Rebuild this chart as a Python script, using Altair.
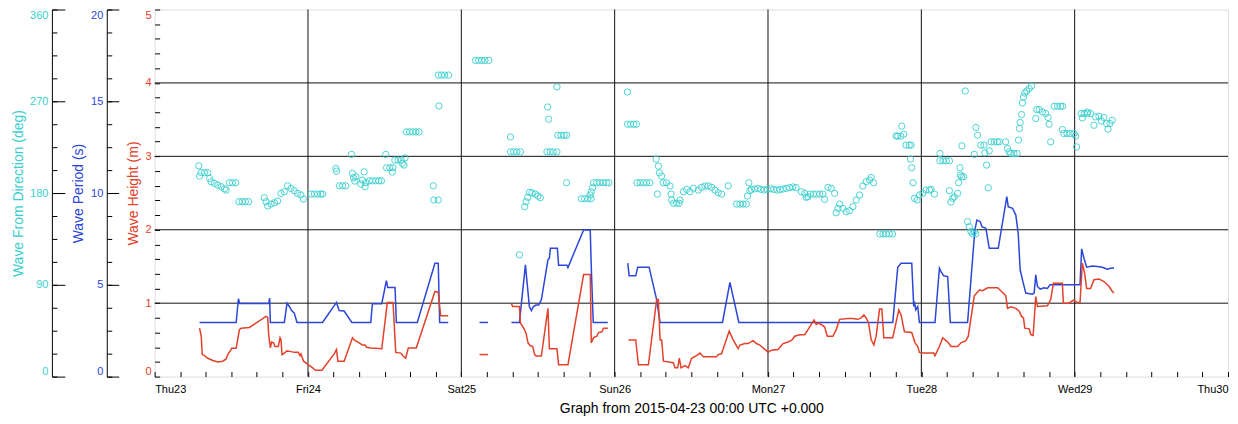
import json
import altair as alt
import pandas as pd

CYAN = "#3acfcf"
BLUE = "#2b46d8"
RED = "#e2412a"
FONT = "Liberation Sans"
W, H = 1076, 368

# ---------------- data (hours since 2015-04-23 00:00 UTC) ----------------
day_labels = ["Thu23", "Fri24", "Sat25", "Sun26", "Mon27", "Tue28", "Wed29", "Thu30"]
day_grid_hours = [24, 48, 72, 96, 120, 144]
height_grid_m = [1, 2, 3, 4]

period_seg1 = [(7.03, 2.95), (12.76, 2.95), (13.11, 4.24), (13.32, 3.98), (17.85, 3.98), (18.00, 4.28),
               (18.11, 2.95), (20.30, 2.95), (20.72, 4.00), (21.08, 3.82), (21.44, 3.60), (21.86, 3.46),
               (22.28, 2.95), (26.28, 2.95), (28.46, 4.04), (28.88, 3.60), (29.66, 3.57), (30.87, 2.95),
               (33.83, 2.95), (34.08, 3.97), (35.55, 3.97), (36.27, 5.23), (36.49, 4.85), (37.63, 4.85),
               (37.83, 2.95), (41.11, 2.95), (43.87, 6.18), (44.39, 6.18), (44.61, 2.95), (45.95, 2.95)]
period_seg2 = [(50.85, 2.95), (52.19, 2.95)]
period_seg3 = [(55.85, 2.95), (57.10, 2.95), (58.03, 6.09), (58.65, 3.82), (58.97, 3.60), (59.28, 3.82),
               (59.69, 3.90), (60.11, 3.90), (60.53, 4.18), (61.56, 6.36), (61.78, 6.45), (61.94, 6.99),
               (63.03, 6.99), (63.23, 6.07), (64.53, 6.07), (64.69, 5.94), (67.14, 7.99), (68.18, 7.99),
               (68.34, 5.99), (68.65, 2.95), (70.93, 2.95)]
period_seg4 = [(74.05, 6.18), (74.27, 5.49), (75.30, 5.49), (75.61, 5.96), (77.39, 5.96), (78.58, 4.18),
               (79.11, 2.95), (88.88, 2.95), (90.04, 5.13), (91.44, 2.95), (115.53, 2.95), (116.31, 5.96),
               (116.83, 6.18), (118.50, 6.18), (118.81, 3.82), (118.92, 4.09), (119.13, 3.64), (119.44, 3.82),
               (119.70, 2.95), (122.14, 2.95), (122.83, 5.91), (123.08, 5.72), (123.50, 5.49), (124.12, 5.45),
               (124.54, 2.95), (127.24, 2.95), (128.38, 7.99), (128.70, 8.53), (129.23, 8.44), (129.48, 8.17),
               (130.10, 8.08), (130.63, 6.99), (132.04, 6.99), (133.38, 9.80), (133.60, 9.26), (134.27, 9.17),
               (134.79, 8.80), (135.16, 7.81), (135.47, 5.82), (135.83, 5.27), (136.35, 4.55), (137.39, 4.49),
               (137.66, 4.55), (137.91, 5.54), (138.17, 4.91), (138.60, 4.77), (139.22, 4.84), (139.73, 4.80),
               (140.16, 5.00), (144.84, 5.00), (145.09, 6.96), (145.46, 6.45), (145.87, 5.96), (146.76, 6.03),
               (147.54, 6.00), (148.32, 5.96), (149.10, 5.85), (149.62, 5.90), (150.15, 5.92)]

height_seg1 = [(7.03, 0.66), (7.29, 0.55), (7.45, 0.30), (7.81, 0.285), (8.32, 0.25), (9.10, 0.22),
               (9.88, 0.20), (10.66, 0.21), (11.19, 0.24), (11.44, 0.30), (11.98, 0.37), (12.07, 0.385),
               (12.76, 0.385), (13.27, 0.64), (13.54, 0.66), (14.83, 0.67), (17.44, 0.82), (17.69, 0.81),
               (17.85, 0.57), (18.11, 0.39), (18.31, 0.47), (18.63, 0.46), (18.84, 0.41), (19.36, 0.41),
               (19.63, 0.53), (19.78, 0.50), (19.94, 0.30), (20.30, 0.32), (20.72, 0.35), (21.34, 0.34),
               (21.86, 0.33), (22.48, 0.33), (22.75, 0.285), (22.90, 0.31), (23.31, 0.21), (23.93, 0.17),
               (24.72, 0.12), (25.14, 0.086), (26.18, 0.086), (28.10, 0.31), (28.46, 0.37), (28.68, 0.21),
               (29.66, 0.21), (30.96, 0.53), (31.23, 0.50), (32.01, 0.46), (32.52, 0.43), (32.94, 0.43),
               (33.15, 0.40), (33.83, 0.39), (35.55, 0.38), (36.42, 1.01), (37.31, 1.01), (37.74, 0.33),
               (38.52, 0.32), (38.88, 0.28), (39.30, 0.25), (39.70, 0.39), (40.95, 0.39), (43.87, 1.16),
               (44.39, 1.15), (44.76, 0.83), (45.95, 0.83)]
height_seg2 = [(50.85, 0.30), (52.19, 0.30)]
height_seg3 = [(55.85, 0.99), (56.05, 0.955), (57.10, 0.955), (57.25, 0.73), (57.77, 0.66), (58.13, 0.59),
               (58.44, 0.46), (58.81, 0.42), (59.17, 0.41), (59.48, 0.30), (59.69, 0.28), (60.53, 0.28),
               (61.56, 0.93), (61.78, 0.38), (62.97, 0.38), (63.23, 0.16), (64.69, 0.16), (67.14, 1.39),
               (68.18, 1.39), (68.34, 0.46), (68.70, 0.53), (69.21, 0.55), (69.48, 0.60), (69.99, 0.61),
               (70.26, 0.66), (70.93, 0.66)]
height_seg4 = [(74.16, 0.50), (75.30, 0.50), (75.72, 0.16), (77.28, 0.16), (78.58, 1.05), (78.84, 1.05),
               (79.11, 0.50), (79.36, 0.50), (79.63, 0.21), (81.19, 0.19), (81.45, 0.12), (81.86, 0.12),
               (82.12, 0.25), (82.39, 0.12), (83.01, 0.15), (83.53, 0.12), (84.04, 0.25), (84.82, 0.285),
               (85.36, 0.32), (85.87, 0.27), (87.95, 0.27), (88.21, 0.30), (88.73, 0.31), (89.93, 0.62),
               (90.55, 0.50), (91.33, 0.38), (91.60, 0.43), (92.38, 0.45), (92.90, 0.45), (93.68, 0.49),
               (94.19, 0.45), (94.72, 0.43), (95.50, 0.37), (96.02, 0.33), (96.53, 0.36), (97.58, 0.37),
               (98.36, 0.45), (99.14, 0.47), (99.77, 0.50), (100.19, 0.55), (100.97, 0.57), (101.75, 0.57),
               (102.26, 0.64), (102.78, 0.71), (103.20, 0.77), (103.56, 0.71), (103.82, 0.73), (104.34, 0.71),
               (104.87, 0.675), (105.28, 0.55), (106.17, 0.55), (106.68, 0.64), (107.21, 0.78), (108.51, 0.79),
               (109.29, 0.79), (110.07, 0.78), (110.59, 0.80), (111.01, 0.84), (111.37, 0.80), (111.74, 0.73),
               (112.15, 0.50), (112.57, 0.43), (112.93, 0.55), (113.46, 0.92), (113.82, 0.92), (114.13, 0.53),
               (115.53, 0.53), (116.47, 0.91), (116.83, 0.84), (117.36, 0.61), (118.50, 0.60), (119.02, 0.46),
               (119.44, 0.41), (119.70, 0.33), (120.22, 0.32), (121.94, 0.32), (122.14, 0.285), (122.83, 0.41),
               (123.34, 0.53), (123.86, 0.49), (124.23, 0.46), (124.64, 0.41), (125.68, 0.41), (126.20, 0.46),
               (126.98, 0.49), (127.35, 0.55), (128.29, 1.10), (129.07, 1.18), (129.59, 1.17), (130.37, 1.21),
               (131.93, 1.21), (132.44, 1.17), (133.22, 1.10), (133.49, 0.93), (134.00, 0.95), (134.79, 0.93),
               (135.32, 0.89), (135.68, 0.82), (135.99, 0.80), (136.19, 0.66), (136.88, 0.65), (137.13, 0.57),
               (137.50, 0.56), (137.91, 1.09), (138.17, 0.955), (139.73, 0.965), (140.25, 1.05), (140.67, 1.27),
               (142.08, 1.27), (142.23, 1.00), (143.12, 1.00), (143.79, 1.04), (144.42, 1.01), (144.84, 1.01),
               (145.20, 1.545), (145.56, 1.41), (145.87, 1.20), (146.49, 1.20), (147.02, 1.32), (147.80, 1.33),
               (148.58, 1.295), (149.37, 1.23), (149.88, 1.16), (150.15, 1.14)]

direction_points = [
    (6.92, 206.7), (7.03, 196.6), (7.29, 200), (7.81, 200), (8.32, 200), (8.59, 194.4), (8.85, 191.1),
    (9.37, 189.5), (9.88, 187.8), (10.41, 186.2), (10.93, 184.2), (11.19, 182.9), (11.71, 190.1),
    (12.2, 190.1), (12.7, 190.1), (13.2, 171.5), (13.7, 171.5), (14.2, 171.5), (14.7, 171.5),
    (17.17, 175.4), (17.44, 171.5), (17.69, 167.3), (18.22, 169.2), (18.74, 170.5), (19.25, 172.2),
    (19.78, 179.7), (20.30, 181.3), (20.81, 187.1), (21.34, 184.6), (21.86, 182.3), (22.37, 179.7),
    (22.90, 178.1), (23.26, 174.1), (24.5, 179), (25.0, 179), (25.5, 179), (26.0, 179), (26.3, 179),
    (28.37, 204.2), (28.46, 201.5), (28.9, 187.1), (29.4, 187.1), (29.9, 187.1), (30.80, 217.9),
    (30.96, 199.3), (31.12, 195.0), (31.34, 191.7), (31.49, 196.0), (32.27, 188.8), (32.52, 192.7),
    (32.79, 200.8), (32.94, 186.2), (33.05, 190.1), (33.6, 192), (34.1, 192), (34.6, 192), (35.1, 192),
    (35.5, 192), (36.17, 217.9), (36.3, 204.8), (36.8, 204.8), (37.3, 204.8), (37.2, 200.6),
    (37.6, 212.3), (38.1, 212.3), (38.6, 212.3), (38.77, 209.1), (39.03, 207.4), (39.19, 214.5),
    (39.4, 240), (39.9, 240), (40.4, 240), (40.9, 240), (41.4, 240), (43.61, 187.1), (43.7, 173.2),
    (44.4, 173.2), (44.50, 265.4), (44.4, 295.7), (44.9, 295.7), (45.4, 295.7), (46.0, 295.7),
    (50.2, 310.1), (50.7, 310.1), (51.2, 310.1), (51.7, 310.1), (52.3, 310.1),
    (55.69, 235.1), (55.7, 220.4), (56.2, 220.4), (56.7, 220.4), (57.25, 220.4), (57.10, 119.4),
    (57.92, 166.6), (58.13, 171.5), (58.39, 175.8), (58.66, 180.7), (59.06, 180.3), (59.59, 179.0),
    (60.0, 177.1), (60.37, 175.4), (61.51, 264.4), (61.67, 252.4), (61.4, 220.4), (61.9, 220.4),
    (62.4, 220.4), (62.97, 220.4), (62.97, 284.0), (63.1, 236.7), (63.6, 236.7), (64.1, 236.7),
    (64.5, 236.7), (64.48, 190.1), (66.8, 174.4), (67.3, 174.4), (67.8, 174.4), (68.3, 174.4),
    (68.18, 178.1), (68.34, 181.3), (68.54, 185.2), (68.7, 190.1), (69.2, 190.1), (69.7, 190.1),
    (70.2, 190.1), (70.7, 190.1), (71.1, 190.1),
    (74.0, 279.1), (74.0, 247.5), (74.5, 247.5), (75.0, 247.5), (75.4, 247.5), (75.5, 190.1),
    (76.0, 190.1), (76.5, 190.1), (77.0, 190.1), (77.5, 190.1), (78.49, 213.3), (78.69, 179.0),
    (78.84, 206.4), (79.0, 199.9), (79.36, 196.6), (79.6, 190.1), (80.1, 190.1), (80.67, 186.9),
    (80.83, 179.0), (80.92, 173.2), (81.2, 170), (81.7, 170), (82.1, 170), (82.23, 173.2),
    (82.75, 181.3), (83.26, 183.6), (83.79, 181.3), (84.31, 184.6), (85.09, 182.9), (85.60, 185.6),
    (86.14, 186.9), (86.65, 186.9), (87.17, 185.6), (87.70, 182.9), (88.21, 180.3), (88.73, 179.0),
    (89.77, 187.1), (91.1, 169.2), (91.6, 169.2), (92.1, 169.2), (92.6, 169.2), (92.79, 177.1),
    (93.0, 190.1), (93.16, 182.3), (93.4, 183.6), (93.9, 184.0), (94.4, 184.5), (94.9, 183.6),
    (95.4, 183.0), (95.9, 183.6), (96.4, 184.2), (96.9, 183.6), (97.4, 183.0), (97.9, 183.3),
    (98.4, 184.0), (98.9, 184.6), (99.4, 185.3), (99.9, 186.0), (100.4, 185.3), (101.22, 181.3),
    (101.75, 179.7), (102.0, 175.8), (102.26, 176.4), (102.6, 179), (103.1, 179), (103.6, 179),
    (104.1, 179), (104.6, 179), (104.87, 173.8), (105.39, 185.6), (105.9, 184.6), (106.43, 179.7),
    (106.68, 160.7), (106.95, 165.0), (107.21, 169.2), (107.73, 165.0), (108.24, 161.7), (108.77, 162.7),
    (109.29, 166.6), (109.81, 173.2), (110.34, 178.1), (110.85, 186.9), (111.37, 191.1), (111.90, 192.7),
    (112.15, 195.4), (112.52, 190.1), (113.5, 139.9), (114.0, 139.9), (114.5, 139.9), (115.0, 139.9),
    (115.5, 139.9), (116.05, 236.1), (116.3, 235.8), (116.8, 235.8), (116.94, 245.6), (117.25, 237.7),
    (117.6, 227.0), (118.1, 227.0), (118.4, 227.0), (118.3, 213.3), (118.5, 204.8), (118.7, 190.1),
    (118.92, 174.8), (119.33, 173.2), (119.70, 178.1), (120.22, 179.7), (120.73, 182.9), (121.27, 182.9),
    (121.52, 183.6), (122.04, 179.0), (122.92, 218.8), (122.9, 211.6), (123.4, 211.6), (123.9, 211.6),
    (124.4, 211.6), (124.39, 182.3), (124.64, 171.2), (124.90, 174.8), (125.17, 176.4), (125.68, 179.7),
    (125.84, 190.1), (126.1, 197.6), (126.05, 204.8), (126.31, 196.0), (126.35, 226.3), (126.62, 196.0),
    (126.88, 280.1), (127.24, 151.9), (127.51, 147.0), (127.76, 142.1), (128.03, 139.9), (128.29, 142.1),
    (128.54, 139.9), (128.29, 217.9), (128.54, 244.3), (128.80, 236.7), (129.3, 227.0), (129.8, 227.0),
    (129.95, 219.4), (130.21, 207.4), (130.48, 185.2), (130.63, 221.4), (130.9, 230.2), (131.4, 230.2),
    (131.9, 230.2), (132.2, 230.2), (133.2, 230.2), (133.49, 223.7), (133.76, 220.4), (134.0, 218.8),
    (134.5, 218.8), (135.0, 218.8), (135.21, 231.9), (135.36, 243.3), (135.47, 249.2), (135.68, 257.0),
    (135.83, 268.3), (135.99, 274.2), (136.19, 278.1), (136.50, 280.1), (136.88, 282.4), (137.24, 285.0),
    (137.91, 253.1), (138.06, 261.9), (138.44, 261.9), (138.95, 259.5), (139.47, 258.0), (139.84, 254.1),
    (140.0, 247.5), (140.25, 230.2), (140.8, 265.1), (141.3, 265.1), (141.8, 265.1), (142.1, 265.1),
    (142.08, 242.3), (142.3, 238.4), (142.8, 238.4), (143.3, 238.4), (143.9, 238.4), (144.15, 235.8),
    (144.31, 225.3), (145.0, 258.0), (145.5, 258.0), (146.0, 258.0), (146.5, 258.0), (145.2, 253.7),
    (145.98, 259.5), (147.02, 246.5), (147.27, 254.7), (147.80, 255.3), (148.17, 250.7), (148.58, 254.1),
    (148.99, 248.2), (149.21, 242.6), (149.52, 248.2), (149.88, 251.4)]


def seg_frame(segs, name):
    rows = []
    for i, seg in enumerate(segs):
        for t, v in seg:
            rows.append({"t": t, name: v, "seg": i})
    return pd.DataFrame(rows)


period_df = seg_frame([period_seg1, period_seg2, period_seg3, period_seg4], "p")
height_df = seg_frame([height_seg1, height_seg2, height_seg3, height_seg4], "h")
dir_df = pd.DataFrame(direction_points, columns=["t", "d"])
helper = pd.DataFrame({"v": [0.0]})

# ---------------- scales & axes ----------------
x_scale = alt.Scale(domain=[0, 168], nice=False, zero=False)
day_expr = "datum.value % 24 === 0 ? " + json.dumps(day_labels) + "[datum.value / 24] : ''"
x_axis = alt.Axis(orient="bottom", offset=-5, values=list(range(0, 169, 4)), tickSize=5,
                  tickColor="black", domain=False, grid=False, labelExpr=day_expr,
                  labelFlush=True, labelOverlap=False, labelPadding=7, labelFontSize=11,
                  labelColor="black", labelFont=FONT,
                  title="Graph from 2015-04-23 00:00 UTC +0.000", titleFontSize=14,
                  titleFontWeight="normal", titleColor="black", titleFont=FONT,
                  titleY=40.5, titleBaseline="alphabetic")


def sc(lo, hi):
    return alt.Scale(domain=[lo, hi], nice=False, zero=False)


def major_axis(offset, tick, values, color, title, title_x, pad=4, label_expr=None):
    kw = dict(orient="left", offset=offset, values=values, tickSize=tick, tickColor="black",
              domain=False, grid=False, labelColor=color, labelFontSize=11, labelFont=FONT,
              labelPadding=pad, labelFlush=True, labelOverlap=False, title=title, titleColor=color,
              titleFontSize=14, titleFontWeight="normal", titleFont=FONT, titleX=title_x,
              titleY=H / 2, titleBaseline="middle", titleAngle=270)
    if label_expr:
        kw["labelExpr"] = label_expr
    return alt.Axis(**kw)


def minor_axis(offset, values):
    return alt.Axis(orient="left", offset=offset, values=values, tickSize=5, tickColor="black",
                    domain=False, labels=False, grid=False, title="")


def domain_axis(offset):
    return alt.Axis(orient="left", offset=offset, ticks=False, labels=False, domain=True,
                    domainColor="black", grid=False, title="")


def axis_layer(lo, hi, axis):
    return alt.Chart(helper).mark_rule(opacity=0).encode(
        y=alt.Y("v:Q", scale=sc(lo, hi), axis=axis))


dir_major = major_axis(90, 13, [0, 90, 180, 270, 360], CYAN, "Wave From Direction (deg)", -46.5)
per_major = major_axis(36, 12, [0, 5, 10, 15, 20], BLUE, "Wave Period (s)", -40.5)
red_values = [round(0.2 * k, 1) for k in range(26)]
red_axis = major_axis(-5, 5, red_values, RED, "Wave Height (m)", -26.5, pad=3.5,
                      label_expr="datum.value % 1 === 0 ? format(datum.value, 'd') : ''")

# ---------------- layers ----------------
vgrid = alt.Chart(pd.DataFrame({"t": day_grid_hours})).mark_rule(color="#111", strokeWidth=1).encode(
    x=alt.X("t:Q", scale=x_scale, axis=x_axis))
hgrid = alt.Chart(pd.DataFrame({"h": height_grid_m})).mark_rule(color="#111", strokeWidth=1).encode(
    y=alt.Y("h:Q", scale=sc(0, 5), axis=None))

period_line = alt.Chart(period_df).mark_line(color=BLUE, strokeWidth=1.5).encode(
    x=alt.X("t:Q", scale=x_scale, axis=x_axis),
    y=alt.Y("p:Q", scale=sc(0, 20), axis=per_major),
    detail="seg:N")
height_line = alt.Chart(height_df).mark_line(color=RED, strokeWidth=1.5).encode(
    x=alt.X("t:Q", scale=x_scale, axis=x_axis),
    y=alt.Y("h:Q", scale=sc(0, 5), axis=red_axis),
    detail="seg:N")
dir_pts = alt.Chart(dir_df).mark_point(shape="circle", filled=False, size=40, strokeWidth=1,
                                        color=CYAN, opacity=0.9).encode(
    x=alt.X("t:Q", scale=x_scale, axis=x_axis),
    y=alt.Y("d:Q", scale=sc(0, 360), axis=dir_major))

chart = alt.layer(
    vgrid, hgrid, period_line, height_line, dir_pts,
    axis_layer(0, 360, minor_axis(98, [22.5 * k for k in range(17)])),
    axis_layer(0, 360, domain_axis(103)),
    axis_layer(0, 20, minor_axis(43, [1.25 * k for k in range(17)])),
    axis_layer(0, 20, domain_axis(48)),
).resolve_scale(y="independent").properties(
    width=W, height=H,
    autosize=alt.AutoSizeParams(type="none"),
    padding={"left": 147, "top": 1, "right": 2, "bottom": 40},
).configure_view(stroke="black", strokeWidth=1).configure(font=FONT, background="white")

chart.save("out.html", embed_options={"renderer": "svg", "actions": False})
